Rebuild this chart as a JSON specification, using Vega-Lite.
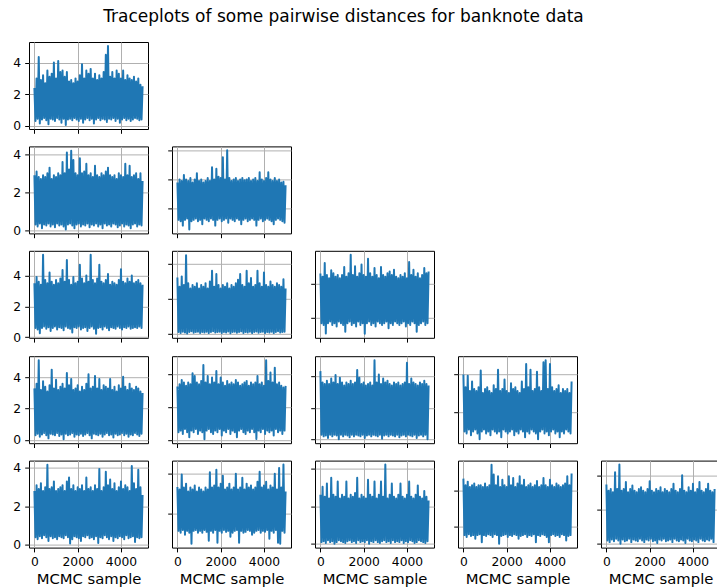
{
  "$schema": "https://vega.github.io/schema/vega-lite/v6.json",
  "background": "white",
  "padding": {"left": 12, "top": 7, "right": 0, "bottom": 0},
  "title": {
    "text": "Traceplots of some pairwise distances for banknote data",
    "font": "DejaVu Sans",
    "fontSize": 17,
    "fontWeight": "normal",
    "color": "black",
    "anchor": "middle",
    "offset": 16,
    "dx": -23
  },
  "data": {
    "values": [
      {"s":0,"d21":2.4,"d31":2.9,"d32":3.8,"d41":3.5,"d42":3.24,"d43":4.58,"d51":3.3,"d52":3.26,"d53":4.31,"d54":3.96,"d61":2.8,"d62":3.33,"d63":2.6,"d64":4.67,"d65":3.46},
      {"s":50,"d21":0.3,"d31":0.3,"d32":1.2,"d41":0.6,"d42":0.1,"d43":1.7,"d51":0.3,"d52":0.5,"d53":0.3,"d54":1.0,"d61":0.4,"d62":1.1,"d63":0.1,"d64":1.5,"d65":0.2},
      {"s":100,"d21":3.0,"d31":3.1,"d32":4.0,"d41":3.9,"d42":2.7,"d43":4.4,"d51":3.6,"d52":3.4,"d53":3.6,"d54":3.3,"d61":3.1,"d62":3.2,"d63":3.03,"d64":4.3,"d65":3.1},
      {"s":150,"d21":0.45,"d31":0.2,"d32":1.1,"d41":0.5,"d42":0.05,"d43":1.6,"d51":0.4,"d52":0.6,"d53":0.2,"d54":0.9,"d61":0.3,"d62":1.0,"d63":0.15,"d64":1.4,"d65":0.1},
      {"s":200,"d21":4.35,"d31":2.8,"d32":3.9,"d41":3.6,"d42":3.3,"d43":5.19,"d51":5.1,"d52":3.66,"d53":3.5,"d54":3.9,"d61":2.9,"d62":3.96,"d63":2.5,"d64":4.5,"d65":3.2},
      {"s":250,"d21":0.15,"d31":0.35,"d32":0.8,"d41":0.25,"d42":0.12,"d43":1.1,"d51":0.2,"d52":0.4,"d53":0.25,"d54":1.1,"d61":0.45,"d62":1.15,"d63":0.05,"d64":1.55,"d65":0.25},
      {"s":300,"d21":2.9,"d31":2.7,"d32":4.32,"d41":3.4,"d42":2.8,"d43":4.5,"d51":3.2,"d52":3.5,"d53":3.7,"d54":3.1,"d61":3.2,"d62":3.3,"d63":3.2,"d64":4.2,"d65":3.0},
      {"s":350,"d21":0.4,"d31":0.1,"d32":1.2,"d41":0.6,"d42":0.08,"d43":1.7,"d51":0.35,"d52":0.7,"d53":0.1,"d54":0.8,"d61":0.35,"d62":0.9,"d63":0.2,"d64":1.45,"d65":0.15},
      {"s":400,"d21":3.2,"d31":2.9,"d32":4.0,"d41":5.35,"d42":4.51,"d43":4.3,"d51":3.75,"d52":3.3,"d53":3.5,"d54":3.6,"d61":2.8,"d62":3.5,"d63":2.4,"d64":4.3,"d65":4.17},
      {"s":450,"d21":0.5,"d31":0.3,"d32":1.3,"d41":0.7,"d42":0.02,"d43":1.8,"d51":0.45,"d52":0.5,"d53":0.3,"d54":1.0,"d61":0.5,"d62":1.1,"d63":0.1,"d64":1.5,"d65":0.3},
      {"s":500,"d21":2.7,"d31":2.8,"d32":3.9,"d41":3.7,"d42":2.9,"d43":4.77,"d51":3.4,"d52":3.5,"d53":3.85,"d54":3.2,"d61":3.0,"d62":3.1,"d63":3.5,"d64":4.4,"d65":3.2},
      {"s":550,"d21":0.35,"d31":0.25,"d32":0.53,"d41":0.55,"d42":0.1,"d43":1.6,"d51":0.3,"d52":0.2,"d53":0.2,"d54":1.1,"d61":0.4,"d62":1.0,"d63":0.15,"d64":1.3,"d65":0.2},
      {"s":600,"d21":3.5,"d31":3.0,"d32":4.1,"d41":3.5,"d42":2.6,"d43":4.6,"d51":3.1,"d52":3.4,"d53":3.6,"d54":3.1,"d61":4.17,"d62":3.3,"d63":2.6,"d64":4.2,"d65":4.62},
      {"s":650,"d21":0.1,"d31":0.35,"d32":1.1,"d41":0.65,"d42":0.15,"d43":1.7,"d51":0.1,"d52":0.6,"d53":0.3,"d54":0.9,"d61":0.2,"d62":0.45,"d63":0.02,"d64":1.5,"d65":0.01},
      {"s":700,"d21":3.1,"d31":3.3,"d32":3.8,"d41":4.2,"d42":2.8,"d43":4.4,"d51":3.5,"d52":4.06,"d53":4.06,"d54":3.3,"d61":2.9,"d62":3.2,"d63":2.5,"d64":4.3,"d65":3.1},
      {"s":750,"d21":0.45,"d31":0.2,"d32":1.2,"d41":0.4,"d42":0.06,"d43":1.5,"d51":0.4,"d52":0.5,"d53":0.25,"d54":0.6,"d61":0.45,"d62":1.1,"d63":0.1,"d64":1.55,"d65":0.25},
      {"s":800,"d21":3.3,"d31":2.7,"d32":4.0,"d41":3.6,"d42":2.7,"d43":4.5,"d51":4.5,"d52":3.9,"d53":3.5,"d54":4.17,"d61":3.0,"d62":3.4,"d63":3.3,"d64":4.3,"d65":3.2},
      {"s":850,"d21":0.4,"d31":0.3,"d32":1.3,"d41":0.6,"d42":0.1,"d43":1.8,"d51":0.35,"d52":0.7,"d53":0.02,"d54":1.0,"d61":0.35,"d62":1.15,"d63":0.2,"d64":1.1,"d65":0.15},
      {"s":900,"d21":4.0,"d31":2.9,"d32":4.44,"d41":3.4,"d42":2.9,"d43":4.3,"d51":3.3,"d52":3.5,"d53":3.9,"d54":3.0,"d61":3.3,"d62":3.1,"d63":2.4,"d64":4.2,"d65":3.6},
      {"s":950,"d21":0.3,"d31":0.15,"d32":1.1,"d41":0.7,"d42":0.12,"d43":1.7,"d51":0.3,"d52":0.4,"d53":0.3,"d54":1.1,"d61":0.4,"d62":1.0,"d63":0.15,"d64":1.5,"d65":0.2},
      {"s":1000,"d21":3.0,"d31":2.8,"d32":3.9,"d41":3.7,"d42":2.6,"d43":4.5,"d51":3.85,"d52":3.4,"d53":3.6,"d54":3.2,"d61":2.8,"d62":3.3,"d63":2.6,"d64":4.4,"d65":3.0},
      {"s":1050,"d21":0.5,"d31":0.35,"d32":1.2,"d41":0.5,"d42":0.05,"d43":1.6,"d51":0.45,"d52":0.6,"d53":0.2,"d54":0.9,"d61":0.3,"d62":1.1,"d63":0.1,"d64":1.45,"d65":0.3},
      {"s":1100,"d21":4.1,"d31":3.0,"d32":4.0,"d41":3.5,"d42":2.8,"d43":4.96,"d51":3.2,"d52":3.6,"d53":3.4,"d54":3.3,"d61":2.9,"d62":3.2,"d63":2.5,"d64":4.2,"d65":3.2},
      {"s":1150,"d21":0.4,"d31":0.25,"d32":0.9,"d41":0.65,"d42":0.1,"d43":1.2,"d51":0.25,"d52":0.5,"d53":0.3,"d54":1.0,"d61":0.45,"d62":1.0,"d63":0.05,"d64":1.55,"d65":0.1},
      {"s":1200,"d21":3.4,"d31":2.9,"d32":3.8,"d41":3.8,"d42":2.7,"d43":4.4,"d51":3.4,"d52":4.56,"d53":3.6,"d54":3.1,"d61":3.0,"d62":3.1,"d63":3.3,"d64":4.3,"d65":3.4},
      {"s":1250,"d21":0.2,"d31":0.3,"d32":1.3,"d41":0.6,"d42":0.08,"d43":1.7,"d51":0.35,"d52":0.08,"d53":0.25,"d54":0.8,"d61":0.4,"d62":1.15,"d63":0.15,"d64":1.5,"d65":0.25},
      {"s":1300,"d21":3.5,"d31":3.6,"d32":3.9,"d41":4.35,"d42":2.9,"d43":4.6,"d51":3.6,"d52":3.5,"d53":3.5,"d54":3.0,"d61":3.1,"d62":3.3,"d63":2.4,"d64":5.45,"d65":3.1},
      {"s":1350,"d21":0.45,"d31":0.2,"d32":1.2,"d41":0.45,"d42":0.12,"d43":1.8,"d51":0.04,"d52":0.6,"d53":0.15,"d54":1.1,"d61":0.35,"d62":1.05,"d63":0.2,"d64":1.4,"d65":0.2},
      {"s":1400,"d21":3.1,"d31":3.0,"d32":4.1,"d41":3.6,"d42":2.6,"d43":5.67,"d51":3.3,"d52":3.9,"d53":3.7,"d54":3.4,"d61":2.8,"d62":3.2,"d63":2.6,"d64":4.9,"d65":3.0},
      {"s":1450,"d21":0.05,"d31":0.04,"d32":1.1,"d41":0.7,"d42":0.04,"d43":1.6,"d51":0.4,"d52":0.7,"d53":0.3,"d54":1.0,"d61":0.5,"d62":0.6,"d63":0.1,"d64":1.55,"d65":0.15},
      {"s":1500,"d21":3.4,"d31":4.1,"d32":3.9,"d41":5.0,"d42":3.0,"d43":4.5,"d51":4.29,"d52":3.4,"d53":3.5,"d54":3.2,"d61":3.3,"d62":4.08,"d63":2.5,"d64":4.3,"d65":3.2},
      {"s":1550,"d21":0.4,"d31":0.3,"d32":1.3,"d41":0.6,"d42":0.1,"d43":1.7,"d51":0.3,"d52":0.5,"d53":0.2,"d54":0.9,"d61":0.4,"d62":1.1,"d63":0.15,"d64":1.5,"d65":0.3},
      {"s":1600,"d21":2.8,"d31":3.2,"d32":4.85,"d41":3.7,"d42":3.62,"d43":5.0,"d51":3.5,"d52":3.8,"d53":3.6,"d54":4.2,"d61":3.5,"d62":3.3,"d63":2.7,"d64":4.8,"d65":3.3},
      {"s":1650,"d21":0.45,"d31":0.35,"d32":1.2,"d41":0.55,"d42":0.15,"d43":1.5,"d51":0.35,"d52":0.4,"d53":0.3,"d54":1.0,"d61":0.07,"d62":1.0,"d63":0.05,"d64":1.02,"d65":0.2},
      {"s":1700,"d21":2.9,"d31":4.19,"d32":4.0,"d41":3.4,"d42":2.7,"d43":4.4,"d51":3.9,"d52":3.5,"d53":4.38,"d54":3.1,"d61":2.9,"d62":3.4,"d63":3.5,"d64":4.2,"d65":3.1},
      {"s":1750,"d21":0.35,"d31":0.25,"d32":0.8,"d41":0.3,"d42":0.07,"d43":1.8,"d51":0.45,"d52":0.6,"d53":0.25,"d54":0.7,"d61":0.3,"d62":1.15,"d63":0.2,"d64":1.45,"d65":0.1},
      {"s":1800,"d21":2.7,"d31":3.7,"d32":4.74,"d41":3.9,"d42":3.43,"d43":4.6,"d51":3.2,"d52":4.2,"d53":3.9,"d54":3.2,"d61":3.1,"d62":4.2,"d63":2.4,"d64":4.6,"d65":3.0},
      {"s":1850,"d21":0.5,"d31":0.1,"d32":1.2,"d41":0.65,"d42":0.1,"d43":1.6,"d51":0.2,"d52":0.5,"d53":0.2,"d54":1.1,"d61":0.45,"d62":0.5,"d63":0.1,"d64":1.5,"d65":0.25},
      {"s":1900,"d21":3.0,"d31":3.0,"d32":4.2,"d41":3.5,"d42":2.8,"d43":5.1,"d51":3.3,"d52":3.4,"d53":3.5,"d54":3.7,"d61":2.8,"d62":3.3,"d63":2.6,"d64":4.3,"d65":3.2},
      {"s":1950,"d21":0.4,"d31":0.3,"d32":1.3,"d41":0.6,"d42":0.12,"d43":1.7,"d51":0.35,"d52":0.7,"d53":0.3,"d54":1.0,"d61":0.4,"d62":1.1,"d63":0.15,"d64":1.55,"d65":0.2},
      {"s":2000,"d21":2.8,"d31":2.9,"d32":4.1,"d41":3.6,"d42":2.6,"d43":4.5,"d51":3.5,"d52":3.8,"d53":3.6,"d54":3.1,"d61":3.0,"d62":3.5,"d63":2.5,"d64":4.2,"d65":3.65},
      {"s":2050,"d21":0.3,"d31":0.35,"d32":1.1,"d41":0.7,"d42":0.05,"d43":1.08,"d51":0.3,"d52":0.3,"d53":0.1,"d54":0.9,"d61":0.35,"d62":1.0,"d63":0.1,"d64":1.4,"d65":0.3},
      {"s":2100,"d21":3.2,"d31":3.8,"d32":5.54,"d41":4.7,"d42":2.8,"d43":4.4,"d51":3.1,"d52":3.5,"d53":3.4,"d54":3.0,"d61":2.9,"d62":3.9,"d63":2.4,"d64":4.8,"d65":3.1},
      {"s":2150,"d21":0.45,"d31":0.2,"d32":1.2,"d41":0.5,"d42":0.1,"d43":1.7,"d51":0.4,"d52":0.6,"d53":0.25,"d54":1.0,"d61":0.2,"d62":1.15,"d63":0.2,"d64":1.5,"d65":0.15},
      {"s":2200,"d21":3.9,"d31":3.0,"d32":4.0,"d41":3.8,"d42":2.7,"d43":5.44,"d51":3.4,"d52":3.3,"d53":3.5,"d54":3.5,"d61":3.1,"d62":3.2,"d63":3.4,"d64":4.3,"d65":3.0},
      {"s":2250,"d21":0.2,"d31":0.3,"d32":1.3,"d41":0.6,"d42":0.08,"d43":1.8,"d51":0.25,"d52":0.5,"d53":0.3,"d54":1.1,"d61":0.45,"d62":1.05,"d63":0.02,"d64":1.45,"d65":0.2},
      {"s":2300,"d21":3.0,"d31":3.1,"d32":6.03,"d41":3.5,"d42":2.9,"d43":4.6,"d51":3.2,"d52":3.6,"d53":3.6,"d54":3.2,"d61":2.8,"d62":3.3,"d63":2.6,"d64":4.7,"d65":3.2},
      {"s":2350,"d21":0.4,"d31":0.25,"d32":1.0,"d41":0.65,"d42":0.13,"d43":1.6,"d51":0.35,"d52":0.7,"d53":0.2,"d54":0.8,"d61":0.4,"d62":1.1,"d63":0.15,"d64":1.55,"d65":0.05},
      {"s":2400,"d21":3.5,"d31":3.5,"d32":4.1,"d41":4.0,"d42":2.6,"d43":4.4,"d51":3.6,"d52":3.4,"d53":3.4,"d54":3.3,"d61":3.5,"d62":3.5,"d63":2.5,"d64":4.2,"d65":3.1},
      {"s":2450,"d21":0.5,"d31":0.35,"d32":1.3,"d41":0.4,"d42":0.03,"d43":1.7,"d51":0.45,"d52":0.4,"d53":0.3,"d54":1.0,"d61":0.5,"d62":0.8,"d63":0.1,"d64":1.5,"d65":0.25},
      {"s":2500,"d21":3.3,"d31":2.9,"d32":3.9,"d41":3.6,"d42":2.8,"d43":4.9,"d51":4.2,"d52":3.5,"d53":5.0,"d54":3.1,"d61":2.9,"d62":3.2,"d63":3.3,"d64":4.4,"d65":3.3},
      {"s":2550,"d21":0.35,"d31":0.15,"d32":1.2,"d41":0.6,"d42":0.1,"d43":1.5,"d51":0.3,"d52":0.6,"d53":0.25,"d54":0.9,"d61":0.35,"d62":1.0,"d63":0.2,"d64":1.3,"d65":0.2},
      {"s":2600,"d21":3.6,"d31":3.0,"d32":4.0,"d41":5.34,"d42":2.7,"d43":4.5,"d51":3.3,"d52":3.4,"d53":3.6,"d54":3.0,"d61":3.0,"d62":3.3,"d63":2.4,"d64":4.8,"d65":3.0},
      {"s":2650,"d21":0.45,"d31":0.3,"d32":1.1,"d41":0.7,"d42":0.12,"d43":1.8,"d51":0.1,"d52":0.5,"d53":0.2,"d54":1.1,"d61":0.4,"d62":1.1,"d63":0.1,"d64":1.45,"d65":0.3},
      {"s":2700,"d21":3.0,"d31":2.8,"d32":4.1,"d41":3.7,"d42":2.9,"d43":4.3,"d51":3.4,"d52":3.66,"d53":4.1,"d54":3.6,"d61":2.8,"d62":4.0,"d63":2.6,"d64":4.3,"d65":3.2},
      {"s":2750,"d21":0.15,"d31":0.25,"d32":1.3,"d41":0.55,"d42":0.06,"d43":1.7,"d51":0.4,"d52":0.2,"d53":0.3,"d54":1.0,"d61":0.3,"d62":1.15,"d63":0.05,"d64":1.5,"d65":0.15},
      {"s":2800,"d21":3.3,"d31":3.4,"d32":3.9,"d41":3.5,"d42":3.1,"d43":4.96,"d51":4.1,"d52":3.5,"d53":3.5,"d54":3.2,"d61":3.1,"d62":3.2,"d63":3.3,"d64":4.6,"d65":3.1},
      {"s":2850,"d21":0.4,"d31":0.35,"d32":1.2,"d41":0.22,"d42":0.1,"d43":1.6,"d51":0.35,"d52":0.6,"d53":0.05,"d54":0.7,"d61":0.45,"d62":0.5,"d63":0.15,"d64":1.55,"d65":0.2},
      {"s":2900,"d21":2.9,"d31":2.9,"d32":4.0,"d41":3.8,"d42":3.43,"d43":4.5,"d51":3.3,"d52":3.3,"d53":3.85,"d54":4.5,"d61":2.9,"d62":3.3,"d63":2.5,"d64":4.2,"d65":3.0},
      {"s":2950,"d21":0.5,"d31":0.2,"d32":0.9,"d41":0.6,"d42":0.14,"d43":1.7,"d51":0.3,"d52":0.7,"d53":0.25,"d54":1.0,"d61":0.1,"d62":1.1,"d63":0.2,"d64":1.4,"d65":0.25},
      {"s":3000,"d21":3.2,"d31":2.8,"d32":4.1,"d41":4.7,"d42":2.8,"d43":4.4,"d51":3.9,"d52":3.4,"d53":3.6,"d54":3.3,"d61":3.95,"d62":3.8,"d63":4.2,"d64":4.3,"d65":3.2},
      {"s":3050,"d21":0.35,"d31":0.3,"d32":1.2,"d41":0.65,"d42":0.05,"d43":1.8,"d51":0.4,"d52":0.5,"d53":0.3,"d54":0.9,"d61":0.4,"d62":1.0,"d63":0.1,"d64":1.5,"d65":0.1},
      {"s":3100,"d21":3.0,"d31":3.0,"d32":3.95,"d41":3.6,"d42":2.7,"d43":4.6,"d51":3.2,"d52":3.5,"d53":3.7,"d54":4.2,"d61":2.8,"d62":3.2,"d63":2.4,"d64":4.4,"d65":3.5},
      {"s":3150,"d21":0.45,"d31":0.1,"d32":1.3,"d41":0.5,"d42":0.1,"d43":1.4,"d51":0.2,"d52":0.4,"d53":0.2,"d54":1.1,"d61":0.35,"d62":1.05,"d63":0.15,"d64":1.45,"d65":0.3},
      {"s":3200,"d21":3.4,"d31":2.9,"d32":4.0,"d41":3.5,"d42":3.62,"d43":4.7,"d51":3.5,"d52":3.6,"d53":3.5,"d54":3.1,"d61":3.0,"d62":3.5,"d63":2.6,"d64":4.2,"d65":3.1},
      {"s":3250,"d21":0.4,"d31":0.35,"d32":1.1,"d41":0.7,"d42":0.08,"d43":1.7,"d51":0.35,"d52":0.6,"d53":0.3,"d54":1.0,"d61":0.5,"d62":1.15,"d63":0.05,"d64":1.55,"d65":0.2},
      {"s":3300,"d21":4.5,"d31":3.1,"d32":4.1,"d41":3.7,"d42":2.9,"d43":4.5,"d51":3.4,"d52":3.3,"d53":3.4,"d54":3.2,"d61":3.8,"d62":3.3,"d63":3.2,"d64":4.3,"d65":3.0},
      {"s":3350,"d21":0.25,"d31":0.25,"d32":1.2,"d41":0.6,"d42":0.12,"d43":1.6,"d51":0.45,"d52":0.5,"d53":0.25,"d54":0.9,"d61":0.4,"d62":1.1,"d63":0.2,"d64":1.1,"d65":0.15},
      {"s":3400,"d21":5.05,"d31":3.3,"d32":3.9,"d41":4.1,"d42":3.2,"d43":4.8,"d51":3.3,"d52":3.5,"d53":3.6,"d54":4.1,"d61":3.1,"d62":3.4,"d63":2.5,"d64":4.53,"d65":3.2},
      {"s":3450,"d21":0.45,"d31":0.3,"d32":1.3,"d41":0.45,"d42":0.04,"d43":1.8,"d51":0.3,"d52":0.7,"d53":0.2,"d54":0.6,"d61":0.3,"d62":0.9,"d63":0.1,"d64":1.5,"d65":0.25},
      {"s":3500,"d21":3.1,"d31":2.9,"d32":4.0,"d41":3.4,"d42":2.7,"d43":4.4,"d51":3.9,"d52":3.4,"d53":3.5,"d54":3.3,"d61":3.4,"d62":3.2,"d63":2.4,"d64":4.2,"d65":4.0},
      {"s":3550,"d21":0.4,"d31":0.2,"d32":1.2,"d41":0.65,"d42":0.1,"d43":1.7,"d51":0.35,"d52":0.5,"d53":0.3,"d54":1.0,"d61":0.45,"d62":1.0,"d63":0.15,"d64":1.45,"d65":0.2},
      {"s":3600,"d21":3.4,"d31":2.8,"d32":4.1,"d41":3.6,"d42":2.8,"d43":4.3,"d51":3.2,"d52":3.5,"d53":3.6,"d54":3.1,"d61":2.9,"d62":3.3,"d63":2.6,"d64":4.3,"d65":3.1},
      {"s":3650,"d21":0.5,"d31":0.35,"d32":0.8,"d41":0.6,"d42":0.13,"d43":1.6,"d51":0.15,"d52":0.1,"d53":0.15,"d54":1.1,"d61":0.2,"d62":1.1,"d63":0.1,"d64":1.55,"d65":0.05},
      {"s":3700,"d21":3.0,"d31":2.9,"d32":3.9,"d41":3.5,"d42":3.62,"d43":4.5,"d51":3.4,"d52":3.9,"d53":3.4,"d54":4.6,"d61":3.2,"d62":3.6,"d63":3.2,"d64":4.7,"d65":3.0},
      {"s":3750,"d21":0.3,"d31":0.3,"d32":1.2,"d41":0.55,"d42":0.06,"d43":1.7,"d51":0.4,"d52":0.6,"d53":0.25,"d54":0.9,"d61":0.4,"d62":1.15,"d63":0.2,"d64":1.5,"d65":0.3},
      {"s":3800,"d21":3.5,"d31":2.7,"d32":4.5,"d41":3.4,"d42":2.9,"d43":4.4,"d51":3.1,"d52":3.4,"d53":3.5,"d54":4.7,"d61":2.8,"d62":4.1,"d63":2.5,"d64":4.3,"d65":3.3},
      {"s":3850,"d21":0.45,"d31":0.15,"d32":1.3,"d41":0.7,"d42":0.1,"d43":1.8,"d51":0.3,"d52":0.5,"d53":0.3,"d54":1.0,"d61":0.35,"d62":1.0,"d63":0.05,"d64":1.4,"d65":0.2},
      {"s":3900,"d21":3.3,"d31":3.0,"d32":4.0,"d41":3.7,"d42":2.7,"d43":4.6,"d51":3.5,"d52":3.5,"d53":3.6,"d54":3.2,"d61":3.0,"d62":3.3,"d63":2.4,"d64":4.2,"d65":3.1},
      {"s":3950,"d21":0.2,"d31":0.25,"d32":1.1,"d41":0.6,"d42":0.12,"d43":1.5,"d51":0.35,"d52":0.7,"d53":0.2,"d54":0.8,"d61":0.45,"d62":1.1,"d63":0.15,"d64":1.1,"d65":0.15},
      {"s":4000,"d21":3.0,"d31":2.9,"d32":3.9,"d41":4.4,"d42":3.52,"d43":4.3,"d51":3.3,"d52":3.3,"d53":4.83,"d54":4.5,"d61":3.3,"d62":3.4,"d63":2.6,"d64":4.6,"d65":3.5},
      {"s":4050,"d21":0.4,"d31":0.35,"d32":1.2,"d41":0.5,"d42":0.05,"d43":1.7,"d51":0.45,"d52":0.4,"d53":0.3,"d54":1.0,"d61":0.4,"d62":1.05,"d63":0.1,"d64":1.5,"d65":0.25},
      {"s":4100,"d21":3.5,"d31":2.8,"d32":4.1,"d41":3.6,"d42":2.8,"d43":5.25,"d51":4.05,"d52":4.85,"d53":3.5,"d54":3.3,"d61":2.9,"d62":3.6,"d63":3.3,"d64":4.3,"d65":3.0},
      {"s":4150,"d21":0.5,"d31":0.2,"d32":1.3,"d41":0.65,"d42":0.1,"d43":1.6,"d51":0.3,"d52":0.6,"d53":0.25,"d54":1.1,"d61":0.3,"d62":1.15,"d63":0.2,"d64":1.55,"d65":0.2},
      {"s":4200,"d21":2.9,"d31":3.5,"d32":4.5,"d41":3.5,"d42":2.7,"d43":4.5,"d51":3.4,"d52":3.6,"d53":3.85,"d54":3.1,"d61":3.1,"d62":3.2,"d63":2.5,"d64":4.2,"d65":3.2},
      {"s":4250,"d21":0.35,"d31":0.3,"d32":1.2,"d41":0.6,"d42":0.08,"d43":1.8,"d51":0.4,"d52":0.5,"d53":0.2,"d54":0.9,"d61":0.5,"d62":0.7,"d63":0.15,"d64":1.45,"d65":0.1},
      {"s":4300,"d21":3.2,"d31":2.9,"d32":4.0,"d41":3.8,"d42":3.0,"d43":4.8,"d51":3.2,"d52":4.1,"d53":3.6,"d54":3.2,"d61":3.0,"d62":3.4,"d63":2.4,"d64":4.4,"d65":3.6},
      {"s":4350,"d21":0.45,"d31":0.25,"d32":1.1,"d41":0.7,"d42":0.12,"d43":1.7,"d51":0.2,"d52":0.6,"d53":0.3,"d54":1.0,"d61":0.35,"d62":1.1,"d63":0.05,"d64":1.5,"d65":0.3},
      {"s":4400,"d21":3.0,"d31":3.4,"d32":3.9,"d41":3.6,"d42":2.8,"d43":4.4,"d51":3.6,"d52":3.5,"d53":3.5,"d54":3.4,"d61":2.8,"d62":3.3,"d63":2.6,"d64":4.3,"d65":3.1},
      {"s":4450,"d21":0.3,"d31":0.1,"d32":0.9,"d41":0.55,"d42":0.04,"d43":1.2,"d51":0.35,"d52":0.3,"d53":0.1,"d54":0.7,"d61":0.4,"d62":1.0,"d63":0.1,"d64":1.4,"d65":0.2},
      {"s":4500,"d21":2.9,"d31":2.8,"d32":4.1,"d41":4.0,"d42":2.7,"d43":4.6,"d51":3.3,"d52":4.4,"d53":3.4,"d54":3.0,"d61":4.1,"d62":4.0,"d63":3.1,"d64":4.2,"d65":3.0},
      {"s":4550,"d21":0.4,"d31":0.3,"d32":1.2,"d41":0.6,"d42":0.1,"d43":1.6,"d51":0.3,"d52":0.7,"d53":0.25,"d54":1.0,"d61":0.45,"d62":1.15,"d63":0.2,"d64":1.55,"d65":0.15},
      {"s":4600,"d21":3.1,"d31":2.9,"d32":3.9,"d41":3.5,"d42":2.9,"d43":4.3,"d51":3.2,"d52":3.4,"d53":3.6,"d54":3.2,"d61":3.2,"d62":3.2,"d63":2.5,"d64":4.3,"d65":3.2},
      {"s":4650,"d21":0.5,"d31":0.35,"d32":1.3,"d41":0.65,"d42":0.15,"d43":1.7,"d51":0.45,"d52":0.5,"d53":0.3,"d54":0.9,"d61":0.15,"d62":0.5,"d63":0.15,"d64":1.5,"d65":0.25},
      {"s":4700,"d21":2.8,"d31":3.0,"d32":4.0,"d41":3.6,"d42":2.8,"d43":4.5,"d51":3.4,"d52":3.5,"d53":3.5,"d54":3.1,"d61":2.9,"d62":4.3,"d63":2.4,"d64":4.4,"d65":3.5},
      {"s":4750,"d21":0.45,"d31":0.2,"d32":1.2,"d41":0.6,"d42":0.07,"d43":1.8,"d51":0.35,"d52":0.6,"d53":0.2,"d54":1.1,"d61":0.4,"d62":0.45,"d63":0.1,"d64":1.2,"d65":0.2},
      {"s":4800,"d21":3.0,"d31":2.7,"d32":3.8,"d41":3.7,"d42":2.7,"d43":4.9,"d51":3.3,"d52":3.3,"d53":3.7,"d54":3.2,"d61":3.9,"d62":3.3,"d63":2.8,"d64":4.8,"d65":3.1},
      {"s":4850,"d21":0.35,"d31":0.3,"d32":1.1,"d41":0.7,"d42":0.1,"d43":1.6,"d51":0.25,"d52":0.4,"d53":0.3,"d54":1.0,"d61":0.35,"d62":1.1,"d63":0.05,"d64":1.45,"d65":0.3},
      {"s":4900,"d21":2.6,"d31":3.0,"d32":3.85,"d41":3.5,"d42":3.14,"d43":4.6,"d51":3.1,"d52":3.2,"d53":3.5,"d54":3.0,"d61":3.0,"d62":4.47,"d63":2.5,"d64":4.3,"d65":3.0},
      {"s":4950,"d21":0.4,"d31":0.25,"d32":1.0,"d41":0.6,"d42":0.12,"d43":1.7,"d51":0.4,"d52":0.6,"d53":0.02,"d54":0.9,"d61":0.4,"d62":1.0,"d63":0.15,"d64":1.5,"d65":0.1},
      {"s":4999,"d21":2.5,"d31":2.6,"d32":3.6,"d41":3.4,"d42":2.6,"d43":4.7,"d51":3.0,"d52":3.3,"d53":3.4,"d54":3.6,"d61":2.6,"d62":3.1,"d63":2.3,"d64":4.96,"d65":3.2}
    ]
  },
  "spacing": 10.4,
  "vconcat": [
    {"bounds": "flush", "spacing": 24, "hconcat": [
      {"width": 119, "height": 87, "mark": "line", "encoding": {
        "x": {"field": "s", "type": "quantitative", "scale": {"domain": [-250, 5249], "nice": false, "zero": false}, "axis": {"values": [0, 2000, 4000], "labels": false, "title": null}},
        "y": {"field": "d21", "type": "quantitative", "scale": {"domain": [-0.2, 5.3], "nice": false, "zero": false}, "axis": {"values": [0, 2, 4], "title": null}}}}
    ]},
    {"bounds": "flush", "spacing": 24, "hconcat": [
      {"width": 119, "height": 87, "mark": "line", "encoding": {
        "x": {"field": "s", "type": "quantitative", "scale": {"domain": [-250, 5249], "nice": false, "zero": false}, "axis": {"values": [0, 2000, 4000], "labels": false, "title": null}},
        "y": {"field": "d31", "type": "quantitative", "scale": {"domain": [-0.17, 4.42], "nice": false, "zero": false}, "axis": {"values": [0, 2, 4], "title": null}}}},
      {"width": 119, "height": 87, "mark": "line", "encoding": {
        "x": {"field": "s", "type": "quantitative", "scale": {"domain": [-250, 5249], "nice": false, "zero": false}, "axis": {"values": [0, 2000, 4000], "labels": false, "title": null}},
        "y": {"field": "d32", "type": "quantitative", "scale": {"domain": [0.26, 6.3], "nice": false, "zero": false}, "axis": {"values": [2, 4, 6], "labels": false, "title": null}}}}
    ]},
    {"bounds": "flush", "spacing": 24, "hconcat": [
      {"width": 119, "height": 87, "mark": "line", "encoding": {
        "x": {"field": "s", "type": "quantitative", "scale": {"domain": [-250, 5249], "nice": false, "zero": false}, "axis": {"values": [0, 2000, 4000], "labels": false, "title": null}},
        "y": {"field": "d41", "type": "quantitative", "scale": {"domain": [-0.04, 5.6], "nice": false, "zero": false}, "axis": {"values": [0, 2, 4], "title": null}}}},
      {"width": 119, "height": 87, "mark": "line", "encoding": {
        "x": {"field": "s", "type": "quantitative", "scale": {"domain": [-250, 5249], "nice": false, "zero": false}, "axis": {"values": [0, 2000, 4000], "labels": false, "title": null}},
        "y": {"field": "d42", "type": "quantitative", "scale": {"domain": [-0.23, 4.77], "nice": false, "zero": false}, "axis": {"values": [0, 2, 4], "labels": false, "title": null}}}},
      {"width": 119, "height": 87, "mark": "line", "encoding": {
        "x": {"field": "s", "type": "quantitative", "scale": {"domain": [-250, 5249], "nice": false, "zero": false}, "axis": {"values": [0, 2000, 4000], "labels": false, "title": null}},
        "y": {"field": "d43", "type": "quantitative", "scale": {"domain": [0.85, 5.9], "nice": false, "zero": false}, "axis": {"values": [2, 4], "labels": false, "title": null}}}}
    ]},
    {"bounds": "flush", "spacing": 24, "hconcat": [
      {"width": 119, "height": 87, "mark": "line", "encoding": {
        "x": {"field": "s", "type": "quantitative", "scale": {"domain": [-250, 5249], "nice": false, "zero": false}, "axis": {"values": [0, 2000, 4000], "labels": false, "title": null}},
        "y": {"field": "d51", "type": "quantitative", "scale": {"domain": [-0.21, 5.36], "nice": false, "zero": false}, "axis": {"values": [0, 2, 4], "title": null}}}},
      {"width": 119, "height": 87, "mark": "line", "encoding": {
        "x": {"field": "s", "type": "quantitative", "scale": {"domain": [-250, 5249], "nice": false, "zero": false}, "axis": {"values": [0, 2000, 4000], "labels": false, "title": null}},
        "y": {"field": "d52", "type": "quantitative", "scale": {"domain": [-0.16, 5.09], "nice": false, "zero": false}, "axis": {"values": [0, 2, 4], "labels": false, "title": null}}}},
      {"width": 119, "height": 87, "mark": "line", "encoding": {
        "x": {"field": "s", "type": "quantitative", "scale": {"domain": [-250, 5249], "nice": false, "zero": false}, "axis": {"values": [0, 2000, 4000], "labels": false, "title": null}},
        "y": {"field": "d53", "type": "quantitative", "scale": {"domain": [-0.23, 5.25], "nice": false, "zero": false}, "axis": {"values": [0, 2, 4], "labels": false, "title": null}}}},
      {"width": 119, "height": 87, "mark": "line", "encoding": {
        "x": {"field": "s", "type": "quantitative", "scale": {"domain": [-250, 5249], "nice": false, "zero": false}, "axis": {"values": [0, 2000, 4000], "labels": false, "title": null}},
        "y": {"field": "d54", "type": "quantitative", "scale": {"domain": [0.39, 4.91], "nice": false, "zero": false}, "axis": {"values": [2, 4], "labels": false, "title": null}}}}
    ]},
    {"bounds": "flush", "spacing": 24, "hconcat": [
      {"width": 119, "height": 87, "mark": "line", "encoding": {
        "x": {"field": "s", "type": "quantitative", "scale": {"domain": [-250, 5249], "nice": false, "zero": false}, "axis": {"values": [0, 2000, 4000], "format": "d", "title": "MCMC sample"}},
        "y": {"field": "d61", "type": "quantitative", "scale": {"domain": [-0.14, 4.38], "nice": false, "zero": false}, "axis": {"values": [0, 2, 4], "title": null}}}},
      {"width": 119, "height": 87, "mark": "line", "encoding": {
        "x": {"field": "s", "type": "quantitative", "scale": {"domain": [-250, 5249], "nice": false, "zero": false}, "axis": {"values": [0, 2000, 4000], "format": "d", "title": "MCMC sample"}},
        "y": {"field": "d62", "type": "quantitative", "scale": {"domain": [0.25, 4.67], "nice": false, "zero": false}, "axis": {"values": [2, 4], "labels": false, "title": null}}}},
      {"width": 119, "height": 87, "mark": "line", "encoding": {
        "x": {"field": "s", "type": "quantitative", "scale": {"domain": [-250, 5249], "nice": false, "zero": false}, "axis": {"values": [0, 2000, 4000], "format": "d", "title": "MCMC sample"}},
        "y": {"field": "d63", "type": "quantitative", "scale": {"domain": [-0.19, 4.41], "nice": false, "zero": false}, "axis": {"values": [0, 2, 4], "labels": false, "title": null}}}},
      {"width": 119, "height": 87, "mark": "line", "encoding": {
        "x": {"field": "s", "type": "quantitative", "scale": {"domain": [-250, 5249], "nice": false, "zero": false}, "axis": {"values": [0, 2000, 4000], "format": "d", "title": "MCMC sample"}},
        "y": {"field": "d64", "type": "quantitative", "scale": {"domain": [0.8, 5.68], "nice": false, "zero": false}, "axis": {"values": [2, 4], "labels": false, "title": null}}}},
      {"width": 119, "height": 87, "mark": "line", "encoding": {
        "x": {"field": "s", "type": "quantitative", "scale": {"domain": [-250, 5249], "nice": false, "zero": false}, "axis": {"values": [0, 2000, 4000], "format": "d", "title": "MCMC sample"}},
        "y": {"field": "d65", "type": "quantitative", "scale": {"domain": [-0.22, 4.85], "nice": false, "zero": false}, "axis": {"values": [0, 2, 4], "labels": false, "title": null}}}}
    ]}
  ],
  "config": {
    "font": "DejaVu Sans",
    "view": {"stroke": "black", "strokeWidth": 1},
    "line": {"color": "#1f77b4", "strokeWidth": 2.0, "strokeJoin": "round"},
    "axis": {
      "domain": false,
      "grid": true,
      "gridColor": "#b0b0b0",
      "gridWidth": 1,
      "gridOpacity": 1,
      "ticks": true,
      "tickColor": "black",
      "tickSize": 4.3,
      "tickWidth": 1,
      "labelFont": "DejaVu Sans",
      "labelFontSize": 12.3,
      "labelColor": "black",
      "labelPadding": 4,
      "labelFlush": false,
      "labelOverlap": false,
      "labelBound": false,
      "titleFont": "DejaVu Sans",
      "titleFontSize": 14.8,
      "titleFontWeight": "normal",
      "titleColor": "black",
      "titlePadding": 3
    }
  }
}
